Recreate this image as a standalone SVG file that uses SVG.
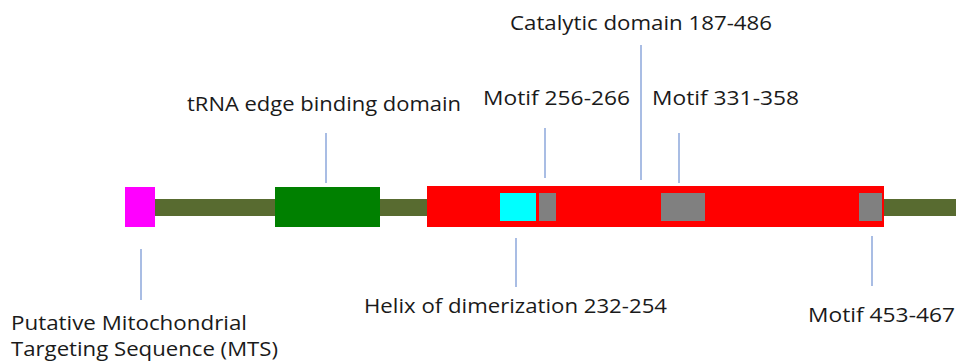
<svg xmlns="http://www.w3.org/2000/svg" width="956" height="362" viewBox="0 0 956 362">
<style>
text{font-family:"Open Sans","Liberation Sans",sans-serif;font-size:20px;fill:#1a1a1a}
.ln{stroke:#7b9ad6;stroke-width:1.3;fill:none}
.motif{fill:#808080}
</style>
<rect width="956" height="362" fill="#ffffff"/>
<g id="backbone"><rect x="150" y="199" width="806" height="17" fill="#586b30"/></g>
<g id="mts"><rect x="125" y="187" width="30" height="40" fill="#ff00ff"/>
<text x="11" y="330" textLength="236" lengthAdjust="spacingAndGlyphs">Putative Mitochondrial</text>
<text x="11" y="356" textLength="267" lengthAdjust="spacingAndGlyphs">Targeting Sequence (MTS)</text></g>
<g id="trna"><rect x="275" y="187" width="105" height="40" fill="#008000"/>
<text x="187" y="111" textLength="274" lengthAdjust="spacingAndGlyphs">tRNA edge binding domain</text></g>
<g id="catalytic"><rect x="427" y="186" width="457" height="41" fill="#ff0000"/>
<text x="510" y="30" textLength="262" lengthAdjust="spacingAndGlyphs">Catalytic domain 187-486</text></g>
<g id="helix"><rect x="500" y="193" width="36" height="28" fill="#00ffff"/>
<text x="364" y="313" textLength="303" lengthAdjust="spacingAndGlyphs">Helix of dimerization 232-254</text></g>
<g id="motif1"><rect class="motif" x="539" y="193" width="17" height="28"/>
<text x="483" y="105" textLength="147" lengthAdjust="spacingAndGlyphs">Motif 256-266</text></g>
<g id="motif2"><rect class="motif" x="661" y="193" width="44" height="28"/>
<text x="652" y="105" textLength="147" lengthAdjust="spacingAndGlyphs">Motif 331-358</text></g>
<g id="motif3"><rect class="motif" x="859" y="193" width="23" height="28"/>
<text x="808" y="322" textLength="147" lengthAdjust="spacingAndGlyphs">Motif 453-467</text></g>
<g id="connectors">
<line class="ln" x1="326" y1="133" x2="326" y2="183"/>
<line class="ln" x1="545" y1="128" x2="545" y2="178"/>
<line class="ln" x1="641" y1="45" x2="641" y2="180"/>
<line class="ln" x1="679" y1="133" x2="679" y2="183"/>
<line class="ln" x1="516" y1="238" x2="516" y2="287"/>
<line class="ln" x1="141" y1="249" x2="141" y2="300"/>
<line class="ln" x1="872" y1="236" x2="872" y2="286"/>
</g>
</svg>
